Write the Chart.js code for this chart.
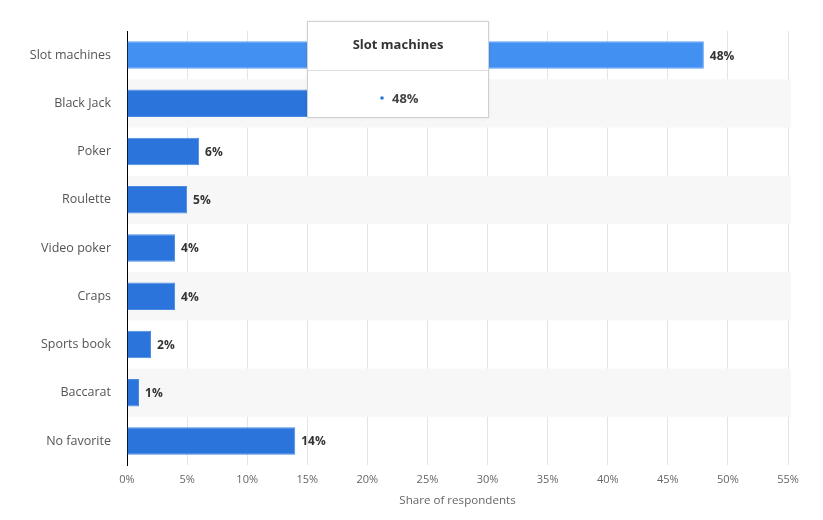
<!DOCTYPE html>
<html>
<head>
<meta charset="utf-8">
<script src="https://cdn.jsdelivr.net/npm/chart.js@4/dist/chart.umd.min.js"></script>
<style>
  html, body { margin: 0; padding: 0; background: #fff; }
  #wrap { width: 823px; height: 520px; position: relative; }
</style>
</head>
<body>
<div id="wrap"><canvas id="chart"></canvas></div>
<script>
// favourite casino games - share of respondents
const games = ['Slot machines', 'Black Jack', 'Poker', 'Roulette', 'Video poker', 'Craps', 'Sports book', 'Baccarat', 'No favorite'];
const shares = [48, 16, 6, 5, 4, 4, 2, 1, 14];
const xTicks = [0, 5, 10, 15, 20, 25, 30, 35, 40, 45, 50, 55];
const hoverIndex = 0;

const FONT = '"Open Sans", "DejaVu Sans", sans-serif';

// alternating row bands
const bandPlugin = {
  id: 'bands',
  beforeDatasetsDraw(chart) {
    const { ctx, chartArea, scales } = chart;
    const y = scales.y;
    const step = y.getPixelForValue(1) - y.getPixelForValue(0);
    ctx.save();
    ctx.fillStyle = '#f7f7f7';
    games.forEach((g, i) => {
      if (i % 2 === 1) {
        const c = y.getPixelForValue(i);
        ctx.fillRect(chartArea.left + 1, c - step / 2, chartArea.right - chartArea.left + 2, step);
      }
    });
    ctx.restore();
  }
};

// value labels at bar ends
const labelPlugin = {
  id: 'valueLabels',
  afterDatasetsDraw(chart) {
    const { ctx } = chart;
    const meta = chart.getDatasetMeta(0);
    ctx.save();
    ctx.font = 'bold 12px ' + FONT;
    ctx.fillStyle = '#333';
    ctx.textBaseline = 'middle';
    meta.data.forEach((bar, i) => {
      ctx.fillText(shares[i] + '%', bar.x + 6, bar.y + 1);
    });
    ctx.restore();
  }
};

// static tooltip box like the hover card
const tipPlugin = {
  id: 'staticTip',
  afterDraw(chart) {
    const { ctx, chartArea } = chart;
    const left = chartArea.left + 180, top = 21, w = 182, h = 97;
    ctx.save();
    ctx.shadowColor = 'rgba(0,0,0,0.08)';
    ctx.shadowBlur = 3;
    ctx.fillStyle = '#fff';
    ctx.fillRect(left, top, w, h);
    ctx.shadowColor = 'transparent';
    ctx.strokeStyle = '#cfcfcf';
    ctx.lineWidth = 1;
    ctx.strokeRect(left + 0.5, top + 0.5, w - 1, h - 1);
    ctx.strokeStyle = '#e0e0e0';
    ctx.beginPath();
    ctx.moveTo(left + 1, top + 49.5);
    ctx.lineTo(left + w - 1, top + 49.5);
    ctx.stroke();
    ctx.textAlign = 'center';
    ctx.textBaseline = 'middle';
    ctx.fillStyle = '#333';
    ctx.font = 'bold 13px ' + FONT;
    ctx.fillText(games[hoverIndex], left + w / 2, top + 24);
    ctx.fillStyle = '#444';
    ctx.textAlign = 'left';
    ctx.fillText(shares[hoverIndex] + '%', left + 85, top + 78);
    ctx.fillStyle = '#2b75de';
    ctx.beginPath();
    ctx.arc(left + 75, top + 77, 1.8, 0, Math.PI * 2);
    ctx.fill();
    ctx.restore();
  }
};

new Chart(document.getElementById('chart'), {
  type: 'bar',
  data: {
    labels: games,
    datasets: [{
      data: shares,
      backgroundColor: games.map((g, i) => i === hoverIndex ? '#4290f2' : '#2a74db'),
      borderColor: games.map((g, i) => i === hoverIndex ? '#62a4f6' : '#4a8ae4'),
      borderWidth: 1,
      borderSkipped: 'left',
      categoryPercentage: 1,
      barPercentage: 0.57
    }]
  },
  options: {
    indexAxis: 'y',
    responsive: true,
    maintainAspectRatio: false,
    animation: false,
    layout: { padding: { top: 31, right: 35, bottom: 12, left: 0 } },
    plugins: {
      legend: { display: false },
      tooltip: { enabled: false }
    },
    events: [],
    scales: {
      x: {
        min: 0,
        max: 55,
        afterBuildTicks(axis) { axis.ticks = xTicks.map(v => ({ value: v })); },
        grid: { color: '#e4e4e4', drawTicks: false },
        border: { display: false },
        ticks: {
          padding: 9,
          color: '#666',
          font: { family: FONT, size: 11, lineHeight: 1.0 },
          callback: v => v + '%'
        },
        title: {
          display: true,
          text: 'Share of respondents',
          color: '#666',
          font: { family: FONT, size: 11.6 },
          padding: { top: 0, bottom: 0 }
        }
      },
      y: {
        afterFit(axis) { axis.width = 127; },
        grid: { display: false },
        border: { display: true, color: '#000', width: 1 },
        ticks: {
          padding: 8,
          color: '#555',
          font: { family: FONT, size: 12.5 }
        }
      }
    }
  },
  plugins: [bandPlugin, labelPlugin, tipPlugin]
});
</script>
</body>
</html>
